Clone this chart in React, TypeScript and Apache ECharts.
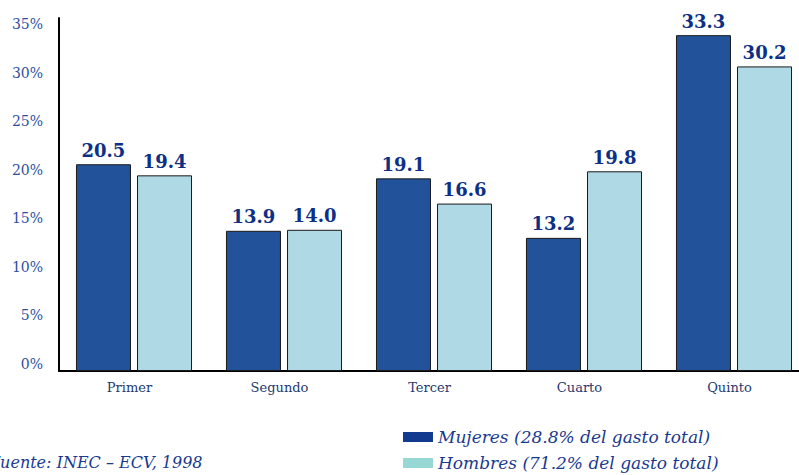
import React, { useEffect, useRef } from "react";
import * as echarts from "echarts";

const categories = ["Primer", "Segundo", "Tercer", "Cuarto", "Quinto"];
const mujeres = [20.5, 13.9, 19.1, 13.2, 33.3];
const hombres = [19.4, 14.0, 16.6, 19.8, 30.2];
const seriesNames = ["Mujeres (28.8% del gasto total)", "Hombres (71.2% del gasto total)"];
const sourceText = "Fuente: INEC \u2013 ECV, 1998";

export default function App() {
  const ref = useRef<HTMLDivElement>(null);
  useEffect(() => {
    if (!ref.current) return;
    const chart = echarts.init(ref.current, null, { renderer: "svg" });
    const labelStyle = {
      show: true,
      position: "top" as const,
      distance: 5,
      fontFamily: "DejaVu Serif",
      fontWeight: "bold" as const,
      fontSize: 18,
      color: "#0d2f85",
      formatter: (p: any) => Number(p.value).toFixed(1),
    };
    const legendText = { fontFamily: "DejaVu Serif", fontStyle: "italic" as const, fontSize: 17, lineHeight: 20, color: "#1a3a8f" };
    chart.setOption({
      animation: false,
      backgroundColor: "#ffffff",
      grid: [
        { left: 59, right: 1, top: 18, height: 353, containLabel: false },
        { left: 59, right: 1, top: 24, height: 340, containLabel: false },
      ],
      legend: [
        {
          left: 403,
          top: 427,
          itemWidth: 30,
          itemHeight: 10,
          itemGap: 5,
          icon: "rect",
          padding: 0,
          textStyle: legendText,
          data: [{ name: seriesNames[0], itemStyle: { color: "#123a8f", borderWidth: 0 } }],
        },
        {
          left: 403,
          top: 453,
          itemWidth: 30,
          itemHeight: 10,
          itemGap: 5,
          icon: "rect",
          padding: 0,
          textStyle: legendText,
          data: [{ name: seriesNames[1], itemStyle: { color: "#98d8d4", borderWidth: 0 } }],
        },
      ],
      xAxis: [
        {
          type: "category",
          gridIndex: 0,
          data: categories,
          axisLine: { show: true, lineStyle: { color: "#000", width: 2 } },
          axisTick: { show: false },
          axisLabel: { fontFamily: "DejaVu Serif", fontSize: 13, color: "#243870", margin: 10, padding: [0, 9, 0, 0] },
        },
        { type: "category", gridIndex: 1, data: categories, show: false },
      ],
      yAxis: [
        {
          type: "value",
          gridIndex: 0,
          min: 0,
          max: 35,
          interval: 5,
          splitLine: { show: false },
          axisLine: { show: true, lineStyle: { color: "#000", width: 2 } },
          axisTick: { show: false },
          axisLabel: { show: false },
        },
        {
          type: "value",
          gridIndex: 1,
          min: 0,
          max: 35,
          interval: 5,
          splitLine: { show: false },
          axisLine: { show: false },
          axisTick: { show: false },
          axisLabel: {
            formatter: "{value}%",
            fontFamily: "DejaVu Serif",
            fontSize: 14,
            color: "#2d4f9e",
            margin: 16,
          },
        },
      ],
      series: [
        {
          name: seriesNames[0],
          type: "bar",
          data: mujeres,
          barWidth: 55,
          barGap: "11%",
          itemStyle: { color: "#22529a", borderColor: "#1a1a1a", borderWidth: 1 },
          label: labelStyle,
        },
        {
          name: seriesNames[1],
          type: "bar",
          data: hombres,
          barWidth: 55,
          itemStyle: { color: "#aed9e5", borderColor: "#1a1a1a", borderWidth: 1 },
          label: labelStyle,
        },
      ],
      graphic: [
        {
          type: "text",
          x: -11,
          y: 454,
          style: { text: sourceText, fontFamily: "DejaVu Serif", fontStyle: "italic", fontSize: 16, fill: "#1a3a8f" },
        },
      ],
    });
    return () => chart.dispose();
  }, []);
  return (
    <div style={{ width: 799, height: 475, position: "absolute", left: 0, top: 0, overflow: "hidden" }}>
      <div ref={ref} style={{ width: 810, height: 475 }} />
    </div>
  );
}
